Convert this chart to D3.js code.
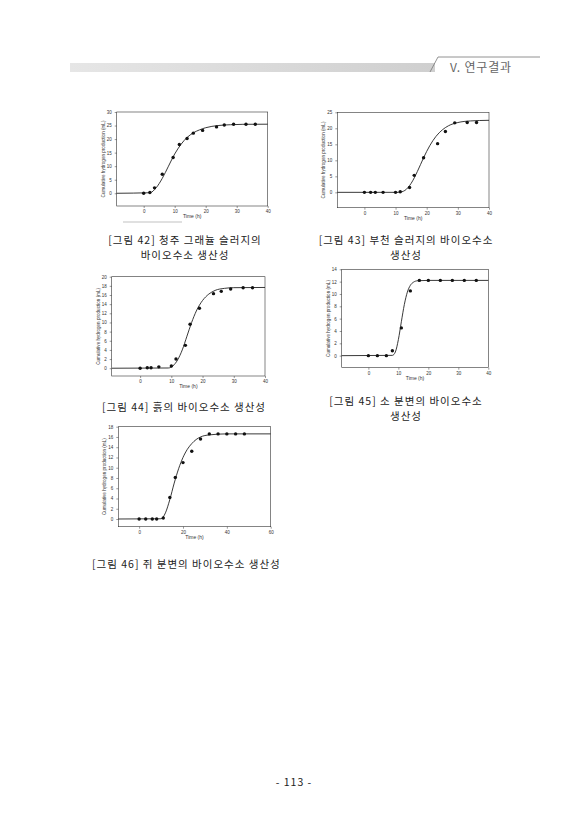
<!DOCTYPE html>
<html><head><meta charset="utf-8">
<script src="https://cdn.jsdelivr.net/npm/d3@7"></script>
<style>body{margin:0;background:#fff}svg{display:block}</style>
</head><body>
<script>
// ---- data ----
const c1Time=[0,2,3.5,6,9.5,11.5,14,16,19,23.5,26,29,33,36];
const c1Vals=[0,0.3,2,7,13.2,18,20.2,22.2,23.2,24.5,25.2,25.5,25.5,25.5];
const c1FitT=[-8.7,2,4,6,8,10,12,14,16,18,20,24,28,32,40];
const c1FitV=[0,0.2,2,5.5,10,14.5,18,20.6,22.3,23.4,24.2,25,25.3,25.45,25.5];
const c1YTicks=[0,5,10,15,20,25,30];
const c2Time=[0,2,3.5,6,10,11.5,14.5,16,19,23.5,26,29,33,36];
const c2Vals=[0,0,0,0,0,0.2,1.5,5.3,10.8,15.2,19,21.7,21.8,21.8];
const c2FitT=[-8.7,11,13,15,17,19,21,23,25,27,30,34,40];
const c2FitV=[0,0,0.6,2.8,6.5,10.8,14.6,17.5,19.5,20.8,21.8,22.3,22.5];
const c2YTicks=[0,5,10,15,20,25];
const c3Time=[0,2.3,3.5,6,10,11.5,14.5,16,19,23.5,26,29,33,36];
const c3Vals=[0,0.1,0.1,0.3,0.5,2,5,9.6,13.1,16.3,16.8,17.3,17.6,17.6];
const c3FitT=[-9,9,10.5,12,13.5,15,16.5,18,20,22,24,27,30,40];
const c3FitV=[0,0.05,0.5,1.8,4,7,10,12.5,14.8,16.2,17,17.45,17.6,17.65];
const c3YTicks=[0,2,4,6,8,10,12,14,16,18,20];
const c4Time=[0,3,6,8,11,14,17,20,24,28,32,36];
const c4Vals=[0,0,0,0.8,4.5,10.5,12.2,12.2,12.2,12.2,12.2,12.2];
const c4FitT=[-8.9,8,9,10,11,12,13,14,15,16.5,20,40];
const c4FitV=[0,0.05,0.6,2.6,5.5,8.3,10.3,11.4,11.9,12.15,12.2,12.2];
const c4YTicks=[0,2,4,6,8,10,12,14];
const c5Time=[0,3,6,8,11,14,16.5,20,24,28,32,36,40,44,48];
const c5Vals=[0,0,0,0,0.2,4.2,8.1,11,13.2,15.6,16.6,16.6,16.6,16.6,16.6];
const c5FitT=[-9.5,10,12,14,16,18,20,22,24,26,28,32,40,60];
const c5FitV=[0,0.05,1.2,3.8,7,9.8,12,13.6,14.7,15.5,16,16.4,16.6,16.6];
const c5YTicks=[0,2,4,6,8,10,12,14,16,18];
const xTicks40=[0,10,20,30,40];
const xTicks60=[0,20,40,60];

const svg=d3.select("body").append("svg").attr("width",587).attr("height",830)
  .style("font-family","'Noto Sans CJK KR','Noto Sans',sans-serif");

// header
const defs=svg.append("defs");
const g=defs.append("linearGradient").attr("id","hb");
g.append("stop").attr("offset","0").attr("stop-color","#e6e6e6");
g.append("stop").attr("offset","1").attr("stop-color","#cfcfcf");
svg.append("rect").attr("x",70).attr("y",63).attr("width",365).attr("height",9).attr("fill","url(#hb)");
svg.append("path").attr("d","M430,72 L438,57 L540,57").attr("fill","none").attr("stroke","#777").attr("stroke-width",0.8);
svg.append("text").attr("x",450).attr("y",72).attr("font-size",12).attr("letter-spacing",0.8).attr("fill","#666").text("V. 연구결과");

function chart(o){
  const x=d3.scaleLinear().domain(o.xd).range([o.x0,o.x1]);
  const y=d3.scaleLinear().domain(o.yd).range([o.y1,o.y0]);
  const gg=svg.append("g");
  gg.append("rect").attr("x",o.x0).attr("y",o.y0).attr("width",o.x1-o.x0).attr("height",o.y1-o.y0)
    .attr("fill","none").attr("stroke","#333").attr("stroke-width",0.6);
  gg.append("g").attr("transform",`translate(0,${o.y1})`)
    .call(d3.axisBottom(x).tickValues(o.xt).tickSize(2).tickFormat(d3.format("d")))
    .call(a=>{a.select(".domain").remove();a.selectAll("text").attr("font-size",4.5).attr("dy","0.5em").attr("fill","#333");a.selectAll("line").attr("stroke","#333").attr("stroke-width",0.5);});
  gg.append("g").attr("transform",`translate(${o.x0},0)`)
    .call(d3.axisLeft(y).tickValues(o.yt).tickSize(2).tickFormat(d3.format("d")))
    .call(a=>{a.select(".domain").remove();a.selectAll("text").attr("font-size",4.5).attr("fill","#333");a.selectAll("line").attr("stroke","#333").attr("stroke-width",0.5);});
  gg.append("text").attr("x",(o.x0+o.x1)/2).attr("y",o.y1+12).attr("text-anchor","middle")
    .attr("font-size",5).attr("font-family","Liberation Sans").attr("fill","#333").text("Time (h)");
  gg.append("text").attr("transform",`translate(${o.x0-12},${(o.y0+o.y1)/2}) rotate(-90)`).attr("text-anchor","middle")
    .attr("font-size",4.6).attr("font-family","Liberation Sans").attr("fill","#333").text("Cumulative hydrogen production (mL)");
  const fit=o.ft.map((t,i)=>[t,o.fv[i]]);
  gg.append("path").datum(fit).attr("fill","none").attr("stroke","#222").attr("stroke-width",0.9)
    .attr("d",d3.line().x(d=>x(d[0])).y(d=>y(d[1])).curve(d3.curveMonotoneX));
  gg.selectAll("circle").data(o.t).join("circle").attr("cx",d=>x(d)).attr("cy",(d,i)=>y(o.v[i])).attr("r",1.7).attr("fill","#111");
}
chart({x0:116.7,x1:267.7,y0:112,y1:206,xd:[-8.7,40],yd:[-4.7,30],xt:xTicks40,yt:c1YTicks,t:c1Time,v:c1Vals,ft:c1FitT,fv:c1FitV});
chart({x0:337.3,x1:489,y0:112.3,y1:207.7,xd:[-8.7,40],yd:[-4.8,25],xt:xTicks40,yt:c2YTicks,t:c2Time,v:c2Vals,ft:c2FitT,fv:c2FitV});
chart({x0:111.7,x1:265,y0:276.7,y1:376,xd:[-9.1,40],yd:[-1.7,20],xt:xTicks40,yt:c3YTicks,t:c3Time,v:c3Vals,ft:c3FitT,fv:c3FitV});
chart({x0:341.7,x1:488.3,y0:269.3,y1:367.7,xd:[-8.9,40],yd:[-1.95,14],xt:xTicks40,yt:c4YTicks,t:c4Time,v:c4Vals,ft:c4FitT,fv:c4FitV});
chart({x0:118.3,x1:270.7,y0:426.7,y1:526.7,xd:[-9.5,60],yd:[-1.5,18],xt:xTicks60,yt:c5YTicks,t:c5Time,v:c5Vals,ft:c5FitT,fv:c5FitV});
svg.append("line").attr("x1",123).attr("x2",182).attr("y1",222).attr("y2",222).attr("stroke","#999").attr("stroke-width",0.6);

const cap=(x,y,s,anchor)=>svg.append("text").attr("x",x).attr("y",y).attr("text-anchor",anchor||"middle")
  .attr("font-size",10.5).attr("letter-spacing",1).attr("fill","#222").text(s);
cap(185,244,"[그림 42] 청주 그래뉼 슬러지의");
cap(185,259,"바이오수소 생산성");
cap(406,244,"[그림 43] 부천 슬러지의 바이오수소");
cap(406,259,"생산성");
cap(184,411,"[그림 44] 흙의 바이오수소 생산성");
cap(406,405,"[그림 45] 소 분변의 바이오수소");
cap(406,420,"생산성");
cap(92,568,"[그림 46] 쥐 분변의 바이오수소 생산성","start");
cap(294,786,"- 113 -");
</script>
</body></html>
